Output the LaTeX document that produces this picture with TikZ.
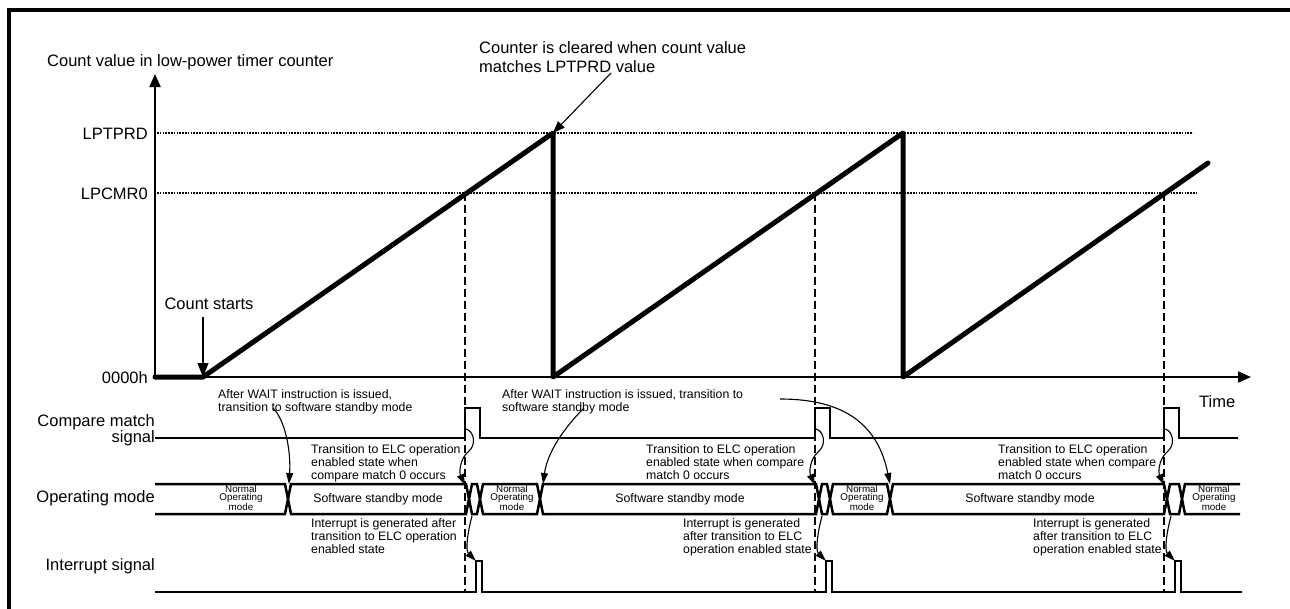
\documentclass[tikz,border=0pt]{standalone}
\usepackage{fontspec}
\setmainfont{Liberation Sans}
\usetikzlibrary{arrows.meta, calc}
\colorlet{ink}{black}
\tikzset{
  lbl/.style     ={font=\fontsize{16.5}{16}\selectfont, inner sep=0pt},
  note/.style    ={font=\fontsize{12.3}{13}\selectfont, inner sep=0pt,
                   align=left},
  tiny/.style    ={font=\fontsize{9.8}{7.6}\selectfont, inner sep=0pt,
                   align=center},
  frame/.style   ={ink, line width=3.5pt},
  axisline/.style={ink, line width=2pt, -{Triangle[length=13pt, width=11pt]}},
  level/.style   ={ink, line width=2pt, dash pattern=on 1.6pt off 1.2pt},
  ramp/.style    ={ink, line width=5pt, line join=round, line cap=round},
  sig/.style     ={ink, line width=2.5pt},
  marker/.style  ={ink, line width=2.3pt, dash pattern=on 8pt off 4pt},
  callout/.style ={ink, line width=1.1pt, -{Triangle[length=11pt, width=7pt]}},
}

\begin{document}
\begin{tikzpicture}[x=1pt, y=-1pt]
\useasboundingbox (0,0) rectangle (1290,608);

% frame
\draw[frame] (9,612) -- (9,10) -- (1294,10);

% axes and levels
\coordinate (o) at (155,377);
\node[lbl, anchor=base west] (ytitle) at (47,66.5)
  {Count value in low-power timer counter};
\node[lbl, anchor=base east] (prd)  at (148,139) {LPTPRD};
\node[lbl, anchor=base east] (cmr)  at (148,199) {LPCMR0};
\node[lbl, anchor=base east] (zero) at (148,383.5) {0000h};
\node[lbl, anchor=base west] (time) at (1199,407) {Time};
\draw[level] (157,133) -- (1193,133);
\draw[level] (157,193) -- (1198,193);
\draw[axisline] (o) -- (155,74);
\draw[axisline] (o) -- (1251,377);

% count value
\coordinate (t0)    at (203,377);
\coordinate (peak1) at (553,133);
\coordinate (drop1) at (553,377);
\coordinate (peak2) at (903,133);
\coordinate (drop2) at (903,377);
\coordinate (tend)  at (1208,163);
\draw[ramp] (o) -- (t0) -- (peak1) -- (drop1) -- (peak2) -- (drop2) -- (tend);

\node[lbl, anchor=base] (cstart) at (209,309) {Count starts};
\coordinate (cstop) at (203,317);
\draw[ink, line width=1.1pt, -{Triangle[length=14pt, width=11pt]}]
  (cstop) -- (t0);

\node[lbl, anchor=base west, align=left,
      font=\fontsize{16.5}{19.5}\selectfont] (clear) at (479,72.5)
  {Counter is cleared when count value\\matches LPTPRD value};
\coordinate (clearfoot) at (611,73);
\draw[callout, -{Triangle[length=12pt, width=9pt]}] (clearfoot) -- (peak1);

% compare match instants
\foreach \d [count=\i] in {465,815,1164} {
  \coordinate (m\i) at (\d,193);
  \draw[marker] (m\i) -- (\d,593);
}

% signal labels
\node[lbl, anchor=base east, align=right] (cmlbl) at (155,442)
  {Compare match\\signal};
\node[lbl, anchor=base east] (oplbl) at (155,502) {Operating mode};
\node[lbl, anchor=base east] (irlbl) at (155,570) {Interrupt signal};

% compare match signal
\draw[sig] (155,438) \foreach \d in {465,815,1164} {
  -- (\d,438) -- (\d,408) -- (\d+15,408) -- (\d+15,438) } -- (1238,438);

% interrupt signal
\draw[sig] (155,592) \foreach \d in {465,815,1164} {
  -- (\d+11,592) -- (\d+11,561) -- (\d+17,561) -- (\d+17,592) } -- (1242,592);

% operating mode bus
\draw[sig] (155,484) -- (285,484) -- (288,499) -- (285,514) -- (155,514);
\foreach \a/\b in {288/469, 469/480, 480/540, 540/819, 819/830,
                   830/890, 890/1167, 1167/1182} {
  \draw[sig] (\a,499) -- (\a+3,484) -- (\b-3,484) -- (\b,499)
    -- (\b-3,514) -- (\a+3,514) -- cycle;
}
\draw[sig] (1240,484) -- (1185,484) -- (1182,499) -- (1185,514) -- (1240,514);

\foreach \x/\n in {241/1, 512/2, 862/3, 1214/4}
  \node[tiny] (nm\n) at (\x,498) {Normal\\Operating\\mode};
\foreach \x/\n in {378/1, 680/2, 1030/3}
  \node[note, anchor=base] (ss\n) at (\x,502) {Software standby mode};

% WAIT notes
\node[note, anchor=base west] (wait1) at (218,411)
  {After WAIT instruction is issued,\\transition to software standby mode};
\node[note, anchor=base west] (wait2) at (502,411)
  {After WAIT instruction is issued, transition to\\software standby mode};
\coordinate (w1) at (273,408);
\coordinate (w2) at (584,408);
\coordinate (w3) at (780,399);
\coordinate (x1) at (289,484);
\coordinate (x2) at (543,484);
\coordinate (x3) at (890,484);
\draw[callout] (w1) .. controls (285,420) and (291,450) .. (x1);
\draw[callout] (w2) .. controls (570,422) and (548,448) .. (x2);
\draw[callout] (w3) .. controls (845,399) and (878,425) .. (x3);

% ELC notes
\node[note, anchor=base west] (elc1) at (311,479.5)
  {Transition to ELC operation\\enabled state when\\compare match 0 occurs};
\node[note, anchor=base west] (elc2) at (646,479.5)
  {Transition to ELC operation\\enabled state when compare\\match 0 occurs};
\node[note, anchor=base west] (elc3) at (998,479.5)
  {Transition to ELC operation\\enabled state when compare\\match 0 occurs};

\node[note, anchor=base west] (int1) at (311,553)
  {Interrupt is generated after\\transition to ELC operation\\enabled state};
\node[note, anchor=base west] (int2) at (683,553)
  {Interrupt is generated\\after transition to ELC\\operation enabled state};
\node[note, anchor=base west] (int3) at (1033,553)
  {Interrupt is generated\\after transition to ELC\\operation enabled state};

\foreach \d in {465,815,1164} {
  \draw[callout] (\d+1,429) .. controls (\d+9,431) and (\d+12,445) .. (\d+3,452)
    .. controls (\d-5,459) and (\d-6,472) .. (\d,485);
  \draw[callout] (\d+7,516) .. controls (\d+3,531) and (\d,550) .. (\d+11,561);
}

\end{tikzpicture}
\end{document}
